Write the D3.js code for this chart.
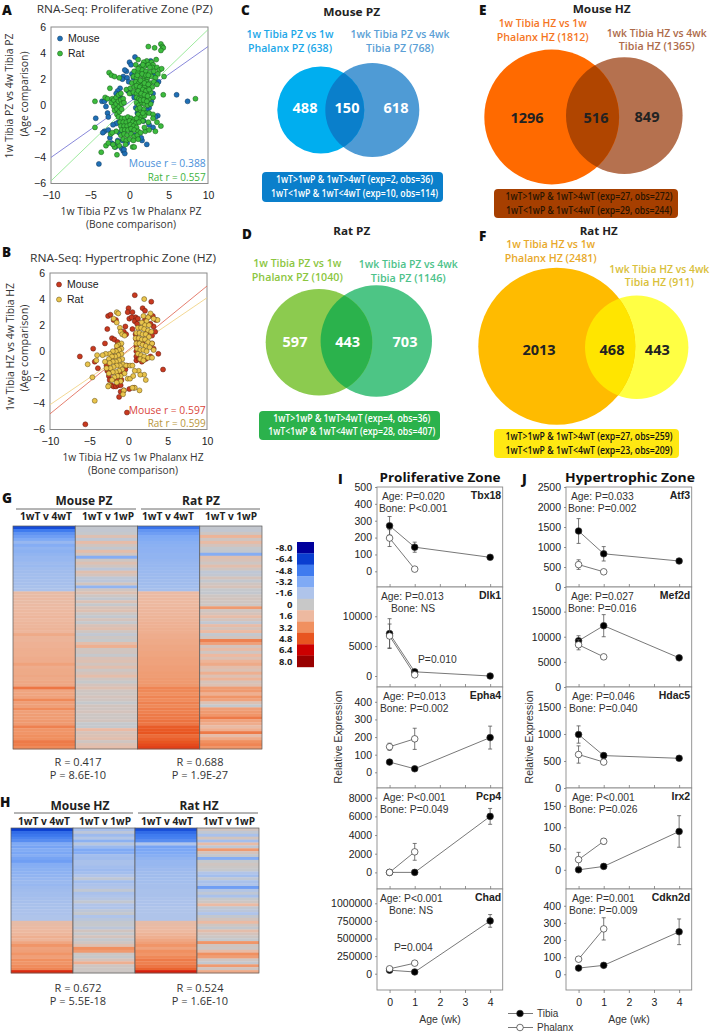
<!DOCTYPE html>
<html><head><meta charset="utf-8">
<script src="https://cdn.jsdelivr.net/npm/d3@7"></script>
<style>html,body{margin:0;background:#fff}svg{display:block}</style></head>
<body><script>
// ---------- scatter data ----------
const pzMouse=[[6,.8],[7.4,.3],[-3.9,-4.5],[-4.3,-1],[-3.5,.3],[-3.2,.3],[-3,-.1],[-2.8,-.6],[-2.7,-.9],[-3.2,-2],[-3.4,-2.1],[-2.7,-1.9],[-2.5,-2.5],[-2.3,-2.9],[-2,-3],[-1.8,-3.2],[-1,-3.3],[-.8,-3.5],[-.6,-3.7],[-.7,-3.4],[-.3,-2.9],[2.2,-3],[1.6,-2.7],[1.5,-2.5],[.7,-2.3],[3,-1.7],[2.5,-1.5],[3.6,-.8],[2.5,-.2],[2.8,.3],[2,.4],[1.6,.5],[.8,-.2],[1.3,-.4],[1,-.6],[1.5,-.9],[1.8,-1.2],[.7,3.7],[0,3.3],[.2,3.1],[-.4,2.6],[-.6,2.7],[-.8,2.2],[-.9,2],[-.3,2.1],[-.1,1.8],[.3,2.4],[.5,2.1],[-1.2,1.3],[-1.5,1.1],[-1.7,.9],[-1.3,.7],[-1,.5],[-.2,1.1],[.2,.9],[.6,.6],[3.7,1.8],[3.4,1.7],[3,2.3],[2.7,3.4],[2.2,3.1],[1.5,3],[-.6,-1.1],[-.2,-1.5],[.1,-1.7],[.3,-1.9],[-.5,-1.9],[-.9,-1.4],[-1.4,-1.3],[-1.7,-1.4],[-2.1,-1.5],[-1.3,-2.1],[-.9,-2.7],[-1.5,-2.7],[1.1,.2],[2.2,-.4],[3,.9],[3.3,-.9]];
const pzRat=[[8.4,.5],[4.3,.8],[-4.4,.3],[-4.4,-1.7],[-3.6,-3.6],[-3,-3.1],[-2.4,-2.2],[-1.6,-3.8],[-1.3,-3.1],[-2.5,1.3],[-2.6,2.5],[-2.3,2.3],[-1.9,2.2],[-1.3,2.1],[-3.1,.6],[-2.8,.5],[-2.2,.5],[2.4,4.5],[3.2,4.4],[4,4.7],[4.2,4.5],[4.3,4.4],[4,4.2],[2.2,3.4],[2.8,3.3],[3.4,3.5],[1.8,3.3],[3,3.1],[1.1,3.5],[.8,3.1],[1.3,2.9],[1.9,3],[2.4,3.1],[2.9,2.9],[3.5,2.9],[3.8,2.7],[.6,2.6],[1.1,2.5],[1.6,2.7],[2.1,2.6],[2.6,2.5],[3.1,2.6],[3.6,2.4],[4.1,2.8],[.5,2.2],[.9,2.1],[1.4,2.3],[1.9,2.2],[2.3,2.1],[2.8,2.2],[3.3,2.1],[4.4,2.2],[.3,1.7],[.8,1.8],[1.2,1.7],[1.7,1.9],[2.2,1.8],[2.6,1.7],[3.1,1.8],[3.5,1.6],[-.4,1.2],[.1,1.3],[.6,1.4],[1,1.3],[1.5,1.5],[1.9,1.4],[2.4,1.3],[2.9,1.4],[0,.9],[.5,1],[.9,.9],[1.3,1.1],[1.8,1],[2.2,.9],[2.7,1],[.9,.6],[1.2,.5],[1.6,.7],[2,.6],[2.5,.5],[3,.6],[.9,.2],[1.2,0],[1.6,.2],[1.9,.1],[2.3,0],[2.7,.1],[1,-.3],[1.4,-.4],[1.8,-.3],[2.1,-.6],[1.1,-.7],[1.5,-.9],[1.9,-.8],[2.5,-.6],[3,-.7],[1.3,-1.1],[1.7,-1.2],[1.1,2.8],[1.6,2.4],[2.1,2.3],[2.6,2.9],[1,2.3],[1.4,1.9],[1.9,1.7],[2.4,1.6],[.9,1.5],[1.3,1.4],[1.7,1.2],[2.1,1.1],[2.5,1.2],[1.1,1.1],[1.5,.9],[1.9,.8],[2.3,.7],[1.4,.4],[1.8,.4],[2.2,.3],[1.3,-.2],[1.7,-.6],[2.4,2.3],[1.7,3.1],[-2.3,.2],[-2,.4],[-1.7,.6],[-1.4,.8],[-1.1,.9],[-2,-.1],[-1.7,.1],[-1.4,.3],[-1.1,.4],[-.8,.5],[-1.9,-.4],[-1.6,-.3],[-1.3,-.1],[-1,.1],[-.7,.2],[-1.6,-.7],[-1.3,-.5],[-1,-.3],[-1.4,-.9],[-1,-1],[-.6,-1],[-.2,-.9],[.2,-1],[.6,-1.1],[.9,-1],[-1.2,-1.3],[-.8,-1.3],[-.4,-1.3],[0,-1.2],[.4,-1.3],[.8,-1.4],[1.2,-1.3],[-1.1,-1.6],[-.7,-1.6],[-.3,-1.6],[.1,-1.5],[.5,-1.6],[.9,-1.7],[-1,-1.9],[-.6,-1.9],[-.2,-1.9],[.2,-1.8],[.6,-1.9],[1.1,-2],[-1.1,-2.3],[-.7,-2.2],[-.3,-2.3],[.2,-2.2],[.6,-2.4],[1,-2.3],[-.8,-2.6],[-.4,-2.7],[0,-2.6],[.5,-2.7],[1.1,-2.6],[-.5,-3],[.4,-3.2],[.6,-3.2],[2,-2],[2.5,-1.9],[3.3,-2],[4,-1.6],[3,-1],[3.5,-1.3],[2.4,-1.3],[1.9,-1.7],[1.4,-2.1],[-1.7,-2],[-2.2,-2.1],[-1.5,-2.8],[-1.9,-3.2],[-2.1,-3],[-2.7,-2.9]];
const hzMouse=[[.8,4.3],[2.9,3.8],[-5.5,-5.6],[-.2,-4.7],[-6.2,-.4],[-4.5,.2],[-4.3,-.8],[-3.9,-1.3],[-3,.6],[-2.7,1.7],[-2.6,2.7],[-2.3,2.8],[-1.9,2.4],[-1.6,2.4],[-2.1,1],[-1.8,.9],[-1.4,.7],[4.4,-1.4],[3.8,-.2],[3.2,.2],[3,.6],[3.4,1.5],[0,3.3],[-.1,3],[.5,3],[.9,2.6],[1.8,3.3],[2.1,3.1],[2.7,2.7],[3.1,2.7],[3.5,2.4],[.1,2.5],[.4,2.6],[.8,2.3],[1.1,2.1],[-.4,1.9],[-.6,1.5],[-.3,1.3],[.5,1.7],[.9,1.3],[1,.9],[1,.4],[1,0],[1,-.4],[1,-.7],[1.3,-.6],[1.7,-.8],[2.2,-.6],[2.8,-.4],[3,1.2],[3.2,1.9],[2.8,2.1],[1.2,2.5],[1.4,1.8],[1.8,.6],[2.4,1.5],[2.1,2.4],[-2.8,-1.1],[-2.7,-1.5],[-2.5,-1.9],[-2.4,-2.2],[-2.2,-2.6],[-1.9,-2.7],[-1.6,-2.7],[-1.3,-2.6],[-1,-2.6],[-.9,-2.2],[-1.2,-3.5],[-1,-3.1],[-.6,-3],[.1,-2.9],[.7,-2.8],[-2.1,-1.6],[-1.8,-2.1],[-1.4,-2.2],[-1.1,-1.8],[-.7,-1.6],[-.4,-1.4],[-.2,-1.1],[-2.3,-.8],[-1.9,-.4],[-1.5,.1],[-1.1,.4]];
const hzRat=[[2,4],[-5.2,-1],[-4.6,-2],[-4.3,-3.8],[-4.1,-.7],[-4,-.3],[-1.5,3],[-1.3,2.9],[-1.9,2.5],[-1.5,2.2],[-1.1,1.8],[-1,1.5],[-.8,1.3],[-.5,1.2],[3.7,2.4],[3.2,2.5],[2.8,2.9],[2,-1.8],[2.2,-2.2],[1.3,-1.5],[1.5,-1.8],[.8,-1.5],[1.4,-3],[.8,-2.8],[.5,-2.8],[-.6,-3],[-.7,-3.3],[2.5,2.6],[1.9,2.7],[2.3,2.3],[1.7,2.2],[2.1,2],[2.6,2],[1.2,1.8],[1.6,1.8],[2,1.7],[2.5,1.6],[2.9,1.5],[1,1.4],[1.4,1.4],[1.8,1.3],[2.2,1.3],[2.6,1.1],[.9,1],[1.3,1],[1.7,.9],[2.1,.9],[2.5,.7],[3,.6],[1,.6],[1.4,.6],[1.8,.5],[2.2,.4],[2.7,.3],[3.2,.1],[1.1,.2],[1.5,.1],[1.9,.1],[2.3,0],[1.2,-.2],[1.6,-.3],[2,-.4],[2.5,-.5],[3,-.5],[1.5,-.6],[1.9,-.7],[-.9,.6],[-1.3,.5],[-1.5,.4],[-.9,.2],[-1.2,.1],[-1.6,0],[-2,0],[-2.4,-.2],[-2.9,-.2],[-3.3,-.3],[-.9,-.2],[-1.3,-.3],[-1.7,-.4],[-2.1,-.4],[-2.5,-.6],[-.8,-.6],[-1.2,-.7],[-1.6,-.8],[-2,-.8],[-2.4,-.9],[-3,-.8],[-.7,-1],[-1.1,-1.1],[-1.5,-1.1],[-1.9,-1.2],[-2.3,-1.3],[-2.8,-1.3],[-.3,-1.1],[.2,-1.1],[.5,-1.1],[-.8,-1.4],[-1.2,-1.5],[-1.6,-1.6],[-2,-1.6],[-2.5,-1.7],[-.5,-1.7],[-1,-1.9],[-1.4,-1.9],[-1.8,-2],[-.1,-2.1],[.2,-2.1],[.6,-1.9],[-1,-2.3],[-1.5,-2.4],[-2.1,-2.2],[-2.5,-2.6],[-2.6,-2.7]];
const pzFits=[[-10,-4,10,4.5],[-10,-5.8,10,5.8]];
const hzFits=[[-10,-4.8,10,5],[-10,-4.1,10,4.1]];
const scatterTicksX=[-10,-5,0,5,10], scatterTicksY=[-6,-4,-2,0,2,4,6];

// ---------- heat map data ----------
const heatStops=[-8,-6.4,-4.8,-3.2,-1.6,0,1.6,3.2,4.8,6.4,8];
const heatColors=["#00009c","#0a3ed0","#3f7bef","#7faaf5","#afc4ea","#c8c8c8","#edb9a0","#f09060","#e85520","#cc0000","#990000"];
const legendLabels=["-8.0","-6.4","-4.8","-3.2","-1.6","0","1.6","3.2","4.8","6.4","8.0"];
const gMouseAge=[-6,-4.8,-4,-3.6,-3.2,-2.4,-3,-2.6,-2.8,-2.6,-2.4,-2.4,-2.2,-2.3,-2.1,-2.1,-2,-2,-1.9,-1.9,-1.8,-1.7,1.4,1.4,1.5,1.4,1.5,1.5,1.6,1.6,1.7,1.6,1.7,1.7,1.8,1.7,2.2,1.8,1.8,1.9,1.9,2,2,2,2.1,2.1,2.5,2.1,2.2,2.2,2.3,2.2,2.3,2.3,3.9,2.4,2.4,2.5,3.4,2.6,2.6,3.3,2.6,2.7,2.7,2.8,2.8,3.6,3,3,3.2,3.2,3.8,3.7,3.4];
const gMouseBone=[-.3,-.4,-.2,.9,-.5,1.3,.4,-.3,1.2,.3,-3,.2,.9,.3,-.7,1,.5,-.6,-.8,.4,-2.6,.3,.9,.2,-.3,.8,-.2,.6,.9,.2,-.3,.5,-.2,.7,1,.3,-.4,.2,-.1,1.2,2,.3,.4,-.2,.7,.9,.4,1.1,.2,.6,1.2,.3,-.1,.5,.9,.3,.2,.5,.3,-.2,.4,.3,.5,.2,.2,.4,-.2,-.2,1.5,.6,.8,1.1,.3,.9,1.2];
const gRatAge=[-5,-3.9,-3.6,-3.2,-3.1,-2.9,-2.8,-2.7,-2.7,-2.6,-2.6,-2.5,-2.4,-2.4,-2.3,-2.3,-2.2,-2.2,-2.1,-2.1,-2,-1.9,1.5,1.5,1.6,1.6,1.6,1.7,1.7,1.7,1.8,1.8,1.9,1.9,2,2,2.1,2.1,2.2,2.2,2.3,2.3,2.4,2.4,2.5,2.5,2.5,2.6,2.6,2.7,2.7,2.8,2.8,2.9,3.5,3.4,3.2,3.5,3.3,3.6,3.4,3.7,3.6,3.8,3.8,4,3.9,4.6,4.7,4.8,4.2,4.5,4.8,5,5.2];
const gRatBone=[-.3,-.4,.2,1.8,.3,1.4,.5,-.2,-.3,-3,1,.7,.2,1.1,.3,-.6,-.4,.5,-.3,.3,.6,-.2,-.3,.2,.4,.3,.2,2.8,.3,.6,1.3,.5,-.4,1.3,.6,1.5,-.3,.4,3.6,2.6,.5,1.4,.3,1.6,.9,1.8,2.2,1.2,.8,2,.9,1.8,.6,.9,2.7,2.8,2,3,2.5,.8,-.2,2.6,2.8,3,3.8,2.5,2.1,1.4,2,3.8,1.3,2.2,3.2,3.5,3];
const hMouseAge=[-6.4,-5.2,-4.9,-4.5,-4.2,-3.2,-3.4,-3.1,-3.3,-3,-3.4,-3.6,-3,-2.9,-2.8,-2.7,-2.6,-2.4,-2.3,-2.4,-2.2,-2.1,-2,-2,-1.9,-1.9,-1.8,-1.8,-1.7,-1.7,-1.6,-1.6,1.3,1.4,1.5,1.6,1.7,2,1.8,2.4,3,2.5,2.6,3,2.6,3.2,3,3.3,3.5,5.6];
const hMouseBone=[-1.9,-.8,-2.2,-1.4,-2.8,-1,-2.3,-3.2,-3,-2,-2.1,-1.8,-1.8,-2,-2.2,-2,-1.5,-.6,-2,-1.7,-1.5,-.5,-1.8,-1.6,-1.2,-.4,-1.5,-1.6,-.8,-.3,-1.6,-1,-.3,-.2,-.8,.4,-.2,.5,-.2,.3,1,3.2,2.8,.2,-.1,.6,2,.3,.2,.2];
const hRatAge=[-6,-5.2,-4.8,-4.6,-4.2,-1.6,-3.4,-3.3,-3.2,-2.9,-2.6,-2.4,-2.4,-2.3,-2.2,-2.1,-2.1,-2,-2,-1.9,-1.9,-1.8,-1.8,-1.8,-1.7,-1.7,-1.7,-1.6,-1.6,-1.6,-1.6,-1.6,1.3,1.4,1.5,1.6,1.8,2,2.3,2.6,3,2.5,3.2,3,3.4,3.8,3.6,3.9,4.4,5.8];
const hRatBone=[.3,-.5,-1.8,.4,-2,1.3,-.5,2.8,.5,-.3,-3,-.2,.3,.1,-.2,-1.5,-2,-.6,-1.8,-1.6,-3.6,-1.4,-.6,-1.8,-.2,.2,1.5,-.4,-.8,-1.6,-.3,.4,1.5,.3,-.3,1.2,.5,.2,-.2,3,.4,.2,1.4,3.2,2.7,.3,-.3,2.8,.4,2.2];
const heatG=[gMouseAge,gMouseBone,gRatAge,gRatBone], heatH=[hMouseAge,hMouseBone,hRatAge,hRatBone];

// ---------- time course data ----------
const genesI=["Tbx18","Dlk1","Epha4","Pcp4","Chad"], genesJ=["Atf3","Mef2d","Hdac5","Irx2","Cdkn2d"];
const weeks=[0,1,4], weeksP=[0,1], ageTicks=[0,1,2,3,4];
const tibia={Tbx18:[270,143,83],Dlk1:[7100,700,0],Epha4:[58,20,197],Pcp4:[0,0,6000],Chad:[50000,25000,750000],Atf3:[1400,830,650],Mef2d:[9200,12200,5800],Hdac5:[990,600,550],Irx2:[0,8,90],Cdkn2d:[36,52,248]};
const tibiaErr={Tbx18:[55,30,10],Dlk1:[2500,200,100],Epha4:[10,5,65],Pcp4:[50,50,850],Chad:[15000,8000,90000],Atf3:[310,180,50],Mef2d:[1000,2200,300],Hdac5:[160,50,40],Irx2:[2,3,37],Cdkn2d:[8,8,75]};
const phalanx={Tbx18:[197,13],Dlk1:[6700,200],Epha4:[145,190],Pcp4:[0,2200],Chad:[70000,150000],Atf3:[560,380],Mef2d:[8400,6000],Hdac5:[620,480],Irx2:[24,67],Cdkn2d:[88,265]};
const phalanxErr={Tbx18:[50,10],Dlk1:[2000,100],Epha4:[20,60],Pcp4:[50,900],Chad:[10000,8000],Atf3:[120,40],Mef2d:[1000,300],Hdac5:[160,40],Irx2:[17,6],Cdkn2d:[12,65]};
const yTicks={Tbx18:[0,100,200,300,400,500],Dlk1:[0,5000,10000],Epha4:[0,100,200,300,400],Pcp4:[0,2000,4000,6000,8000],Chad:[0,250000,500000,750000,1000000],Atf3:[0,500,1000,1500,2000,2500],Mef2d:[0,5000,10000,15000],Hdac5:[0,500,1000,1500],Irx2:[0,50,100,150],Cdkn2d:[0,100,200,300,400]};
const ageText={Tbx18:"Age: P=0.020",Dlk1:"Age: P=0.013",Epha4:"Age: P=0.013",Pcp4:"Age: P<0.001",Chad:"Age: P<0.001",Atf3:"Age: P=0.033",Mef2d:"Age: P=0.027",Hdac5:"Age: P=0.046",Irx2:"Age: P<0.001",Cdkn2d:"Age: P=0.001"};
const boneText={Tbx18:"Bone: P<0.001",Dlk1:"Bone: NS",Epha4:"Bone: P=0.002",Pcp4:"Bone: P=0.049",Chad:"Bone: NS",Atf3:"Bone: P=0.002",Mef2d:"Bone: P=0.016",Hdac5:"Bone: P=0.040",Irx2:"Bone: P=0.026",Cdkn2d:"Bone: P=0.009"};

// ---------- layout (not data) ----------
const yDomains={Tbx18:[-93,500],Dlk1:[-1840,14900],Epha4:[-89,484],Pcp4:[-1780,9040],Chad:[-231000,1203000],Atf3:[0,2500],Mef2d:[0,19900],Hdac5:[0,1870],Irx2:[-45,192],Cdkn2d:[-92,498]};
const annotX={Tbx18:[5,2],Dlk1:[4,14],Epha4:[6,3],Pcp4:[6,3],Chad:[3,12],Atf3:[5,2],Mef2d:[5,2],Hdac5:[6,3],Irx2:[6,3],Cdkn2d:[6,3]};
const panelTops=[487,587,687,788,889,990];
const SANS="'Open Sans',sans-serif", ARIAL="'Liberation Sans',Arial,sans-serif";

const svg=d3.select("body").append("svg").attr("width",710).attr("height",1033);
function T(x,y,s,o={}){
  const e=svg.append("text").attr("x",x).attr("y",y).text(s)
    .attr("font-family",o.font||SANS).attr("font-size",o.size||10)
    .attr("font-weight",o.weight||400).attr("fill",o.fill||"#222")
    .attr("text-anchor",o.anchor||"start");
  if(o.width) e.attr("textLength",o.width).attr("lengthAdjust","spacingAndGlyphs");
  if(o.rot) e.attr("transform",`rotate(-90 ${x} ${y})`);
  return e;
}
const M="middle";

// ---------- panel letters ----------
[["A",2,14.5],["B",2,257],["C",241,14.5],["D",242,239],["E",479,14.5],["F",479,241],["G",2,503],["H",0,807],["I",338,484],["J",522,484]]
 .forEach(d=>T(d[1],d[2],d[0],{size:13.5,weight:800,fill:"#111"}));

// ---------- scatter plots ----------
function scatter(o){
  const x=d3.scaleLinear().domain([-10,10]).range([o.x0,o.x0+157]);
  const y=d3.scaleLinear().domain([-6,6]).range([o.y0+156.5,o.y0]);
  const g=svg.append("g");
  g.append("rect").attr("x",o.x0).attr("y",o.y0).attr("width",157).attr("height",156.5).attr("fill","#fff").attr("stroke","#8a8a8a").attr("stroke-width",1);
  const ax=g.append("g").attr("transform",`translate(0,${o.y0+156.5})`).call(d3.axisBottom(x).tickValues(scatterTicksX).tickSize(0).tickPadding(8));
  const ay=g.append("g").attr("transform",`translate(${o.x0},0)`).call(d3.axisLeft(y).tickValues(scatterTicksY).tickSize(0).tickPadding(5));
  [ax,ay].forEach(a=>{a.select(".domain").remove();a.selectAll("text").attr("font-family",ARIAL).attr("font-size",10.5).attr("fill","#222")});
  o.fits.forEach((f,i)=>g.append("line").attr("x1",x(f[0])).attr("y1",y(f[1])).attr("x2",x(f[2])).attr("y2",y(f[3])).attr("stroke",o.fitC[i]).attr("stroke-width",.9));
  [[o.a,o.ca,o.sa],[o.b,o.cb,o.sb]].forEach(s=>{
    g.append("g").selectAll("circle").data(s[0]).join("circle")
      .attr("cx",d=>x(d[0])).attr("cy",d=>y(d[1])).attr("r",2.5)
      .attr("fill",s[1]).attr("stroke",s[2]).attr("stroke-width",.5);
  });
  g.append("circle").attr("cx",o.x0+9).attr("cy",o.y0+11.5).attr("r",2.5).attr("fill",o.ca).attr("stroke",o.sa).attr("stroke-width",.5);
  g.append("circle").attr("cx",o.x0+9).attr("cy",o.y0+26.5).attr("r",2.5).attr("fill",o.cb).attr("stroke",o.sb).attr("stroke-width",.5);
  T(o.x0+17,o.y0+15,"Mouse",{font:ARIAL,size:10.5});
  T(o.x0+17,o.y0+30,"Rat",{font:ARIAL,size:10.5});
}
scatter({x0:51,y0:27,a:pzMouse,b:pzRat,ca:"#1f6fb5",cb:"#3dbb3d",sa:"#123a5e",sb:"#14561a",fits:pzFits,fitC:["#7a7ad6","#93e893"]});
scatter({x0:50,y0:273,a:hzMouse,b:hzRat,ca:"#c8391f",cb:"#e9c44c",sa:"#5e1a10",sb:"#5e4a14",fits:hzFits,fitC:["#e2705f","#f2d488"]});
T(36.7,12.7,"RNA-Seq: Proliferative Zone (PZ)",{size:11,width:176,fill:"#333"});
T(30,261.7,"RNA-Seq: Hypertrophic Zone (HZ)",{size:11,width:186,fill:"#333"});
T(13,96,"1w Tibia PZ vs 4w Tibia PZ",{size:10,anchor:M,rot:1,width:125,fill:"#333"});
T(28,94,"(Age comparison)",{size:10,anchor:M,rot:1,width:85,fill:"#333"});
T(131,215,"1w Tibia PZ vs 1w Phalanx PZ",{size:10,anchor:M,width:141,fill:"#333"});
T(131,228,"(Bone comparison)",{size:10,anchor:M,width:90,fill:"#333"});
T(14,347,"1w Tibia HZ vs 4w Tibia HZ",{size:10,anchor:M,rot:1,width:128,fill:"#333"});
T(28,348,"(Age comparison)",{size:10,anchor:M,rot:1,width:87,fill:"#333"});
T(133,461,"1w Tibia HZ vs 1w Phalanx HZ",{size:10,anchor:M,width:141,fill:"#333"});
T(133,474,"(Bone comparison)",{size:10,anchor:M,width:90,fill:"#333"});
T(205.7,166.7,"Mouse  r = 0.388",{size:10,anchor:"end",width:77,fill:"#4a90d9"});
T(205.7,180.7,"Rat r = 0.557",{size:10,anchor:"end",width:58,fill:"#3db33d"});
T(205.7,414,"Mouse  r = 0.597",{size:10,anchor:"end",width:77,fill:"#d9453a"});
T(205.7,427,"Rat r = 0.599",{size:10,anchor:"end",width:58,fill:"#b8963a"});

// ---------- venn diagrams ----------
let vid=0;
function venn(o){
  const g=svg.append("g"), id="v"+(++vid);
  g.append("clipPath").attr("id",id).append("circle").attr("cx",o.c2[0]).attr("cy",o.c2[1]).attr("r",o.c2[2]);
  g.append("circle").attr("cx",o.c2[0]).attr("cy",o.c2[1]).attr("r",o.c2[2]).attr("fill",o.col[1]);
  g.append("circle").attr("cx",o.c1[0]).attr("cy",o.c1[1]).attr("r",o.c1[2]).attr("fill",o.col[0]);
  g.append("circle").attr("cx",o.c1[0]).attr("cy",o.c1[1]).attr("r",o.c1[2]).attr("fill",o.col[2]).attr("clip-path",`url(#${id})`);
  o.nums.forEach(n=>T(n[0],n[1],n[2],{size:14.5,weight:700,anchor:M,fill:o.numC}));
  g.append("rect").attr("x",o.box[0]).attr("y",o.box[1]).attr("width",o.box[2]).attr("height",o.box[3]).attr("rx",4).attr("fill",o.boxC);
  o.boxT.forEach(b=>T(b[0],b[1],b[2],{size:10,weight:600,anchor:M,width:b[3],fill:o.boxTC}));
  o.lab.forEach(l=>T(l[0],l[1],l[2],{size:10.5,weight:600,anchor:M,width:l[3],fill:l[4]}));
  T(o.head[0],o.head[1],o.head[2],{size:11,weight:700,anchor:M,width:o.head[3],fill:"#222"});
}
venn({c1:[320.8,110,43.5],c2:[372.3,110,47],col:["#00aeef","#4f9bd5","#0a7fcb"],numC:"#fff",
 nums:[[305,112.7,"488"],[347,112.7,"150"],[396,112.7,"618"]],box:[262,172,181,30],boxC:"#0a7fcb",boxTC:"#fff",
 boxT:[[354.5,183,"1wT>1wP & 1wT>4wT (exp=2, obs=36)",157],[354.5,196.7,"1wT<1wP & 1wT<4wT (exp=10, obs=114)",167]],
 lab:[[290,38,"1w Tibia PZ vs 1w",87,"#1ca7e8"],[290,52,"Phalanx PZ (638)",84,"#1ca7e8"],[400,38,"1wk Tibia PZ vs 4wk",99,"#5b9fd6"],[400,52,"Tibia PZ (768)",68,"#5b9fd6"]],
 head:[351.7,16,"Mouse PZ",57]});
venn({c1:[551.7,117,67.4],c2:[624.3,115.6,58.3],col:["#ff6a00","#b5714f","#b04500"],numC:"#222",
 nums:[[527,123,"1296"],[596,123,"516"],[647,122,"849"]],box:[494,189,184,29],boxC:"#a63f00",boxTC:"#2a1500",
 boxT:[[589,200,"1wT>1wP & 1wT>4wT (exp=27, obs=272)",167],[589,213.5,"1wT<1wP & 1wT<4wT (exp=29, obs=244)",166]],
 lab:[[542.7,27,"1w Tibia HZ vs 1w",88,"#f5761f"],[542.7,41,"Phalanx HZ (1812)",92,"#f5761f"],[656.7,37,"1wk Tibia HZ vs 4wk",100,"#ad6b4a"],[656.7,50,"Tibia HZ (1365)",76,"#ad6b4a"]],
 head:[601.7,13,"Mouse HZ",58]});
venn({c1:[319,342.3,53.3],c2:[376.3,341,55.7],col:["#8ccb4f","#4dc585","#2bb24c"],numC:"#fff",
 nums:[[295,347.3,"597"],[347.7,347.3,"443"],[405,347.3,"703"]],box:[259,411,181,29],boxC:"#2bb24c",boxTC:"#fff",
 boxT:[[351.7,421.7,"1wT>1wP & 1wT>4wT (exp=4, obs=36)",157],[351.7,435,"1wT<1wP & 1wT<4wT (exp=28, obs=407)",167]],
 lab:[[297.3,267.3,"1w Tibia PZ vs 1w",88,"#8cc63f"],[297.3,281,"Phalanx PZ (1040)",91,"#8cc63f"],[408.3,267.7,"1wk Tibia PZ vs 4wk",99,"#4dc28a"],[408.3,281.7,"Tibia PZ (1146)",75,"#4dc28a"]],
 head:[351.7,235,"Rat PZ",37]});
venn({c1:[556.8,346.3,78.5],c2:[636.7,347.3,51.7],col:["#ffbb00","#ffff44","#ffe500"],numC:"#222",
 nums:[[539,355,"2013"],[612,355,"468"],[657.3,355,"443"]],box:[494,429,185,29],boxC:"#ffe812",boxTC:"#111",
 boxT:[[589,440,"1wT>1wP & 1wT>4wT (exp=27, obs=259)",167],[589,454,"1wT<1wP & 1wT<4wT (exp=23, obs=209)",167]],
 lab:[[550.7,248,"1w Tibia HZ vs 1w",89,"#e8a92a"],[550.7,262,"Phalanx HZ (2481)",92,"#e8a92a"],[659.3,272.7,"1wk Tibia HZ vs 4wk",100,"#d9c03a"],[659.3,286,"Tibia HZ (911)",69,"#d9c03a"]],
 head:[598.7,235,"Rat HZ",38]});

// ---------- heat maps ----------
const heatColor=d3.scaleLinear().domain(heatStops).range(heatColors).clamp(true);
function heat(cols,x0,x1,y0,y1){
  const x=d3.scaleBand().domain(d3.range(4)).range([x0,x1]);
  const g=svg.append("g");
  cols.forEach((vals,c)=>{
    const y=d3.scaleBand().domain(d3.range(vals.length)).range([y0,y1]);
    g.append("g").selectAll("rect").data(vals).join("rect")
      .attr("x",x(c)).attr("width",x.bandwidth()).attr("y",(d,i)=>y(i)).attr("height",y.bandwidth()+.3)
      .attr("fill",d=>heatColor(d));
    g.append("rect").attr("x",x(c)).attr("y",y0).attr("width",x.bandwidth()).attr("height",y1-y0)
      .attr("fill","none").attr("stroke","#5a5a5a").attr("stroke-width",.7);
  });
}
heat(heatG,13,262,526,749);
heat(heatH,11,259,828,973);
function heatHead(n1,n2,xs,ys,w,lines,sub,subY){
  [[n1,xs[0],w[0]],[n2,xs[1],w[1]]].forEach(d=>T(d[1],ys,d[0],{size:11.5,weight:700,anchor:M,width:d[2]}));
  lines.forEach(l=>svg.append("line").attr("x1",l[0]).attr("x2",l[1]).attr("y1",l[2]).attr("y2",l[2]).attr("stroke","#444").attr("stroke-width",.8));
  sub.forEach((s,i)=>T(s,subY,i%2?"1wT v 1wP":"1wT v 4wT",{size:10.5,weight:700,anchor:M,width:52}));
}
heatHead("Mouse PZ","Rat PZ",[84,201],505,[57,38],[[16,136,509],[141,260,509]],[46,108,168,231],520);
heatHead("Mouse HZ","Rat HZ",[80,199],810,[59,39],[[14,133,813],[138,258,813]],[44,105,167,229],825);
[[78,766,"R = 0.417"],[78,779,"P = 8.6E-10"],[200,766,"R = 0.688"],[200,779,"P = 1.9E-27"],[78,992,"R = 0.672"],[78,1005,"P = 5.5E-18"],[200,992,"R = 0.524"],[200,1005,"P = 1.6E-10"]]
 .forEach(d=>T(d[0],d[1],d[2],{size:11,anchor:M,fill:"#333"}));
// legend
const legY=d3.scaleBand().domain(d3.range(heatStops.length)).range([542,667]);
svg.append("g").selectAll("rect").data(heatStops).join("rect")
  .attr("x",297).attr("width",17).attr("y",(d,i)=>legY(i)).attr("height",legY.bandwidth()+.2).attr("fill",d=>heatColor(d));
legendLabels.forEach((l,i)=>T(292.5,legY(i)+legY.bandwidth()/2+3.3,l,{size:9.5,weight:700,anchor:"end"}));

// ---------- time courses ----------
function course(genes,left){
  const w=125.7;
  const x=d3.scaleLinear().domain([-.5,4.5]).range([left,left+w]);
  genes.forEach((gene,i)=>{
    const top=panelTops[i], bot=panelTops[i+1];
    const y=d3.scaleLinear().domain(yDomains[gene]).range([bot,top]);
    const g=svg.append("g");
    g.append("rect").attr("x",left).attr("y",top).attr("width",w).attr("height",bot-top).attr("fill","#fff").attr("stroke","#8a8a8a").attr("stroke-width",.9);
    const ay=g.append("g").attr("transform",`translate(${left},0)`).call(d3.axisLeft(y).tickValues(yTicks[gene]).tickSize(2).tickPadding(3).tickFormat(d3.format("d")));
    ay.select(".domain").remove();
    const last=i===genes.length-1;
    const ax=g.append("g").attr("transform",`translate(0,${bot})`).call(d3.axisBottom(x).tickValues(ageTicks).tickSize(last?3:-3).tickPadding(6).tickFormat(d3.format("d")));
    ax.select(".domain").remove();
    if(!last) ax.selectAll("text").remove();
    [ay,ax].forEach(a=>{a.selectAll("line").attr("stroke","#666").attr("stroke-width",.7);
      a.selectAll("text").attr("font-family",ARIAL).attr("font-size",10.5).attr("fill","#222")});
    const series=[[weeks,tibia[gene],tibiaErr[gene],"#000"],[weeksP,phalanx[gene],phalanxErr[gene],"#fff"]];
    series.forEach(([xs,v,e,fill])=>{
      const pts=xs.map((a,k)=>({a,v:v[k],e:e[k]}));
      g.append("path").attr("d",d3.line().x(d=>x(d.a)).y(d=>y(d.v))(pts)).attr("fill","none").attr("stroke","#555").attr("stroke-width",.8);
      const er=g.append("g").selectAll("g").data(pts).join("g");
      er.append("line").attr("x1",d=>x(d.a)).attr("x2",d=>x(d.a)).attr("y1",d=>y(d.v-d.e)).attr("y2",d=>y(d.v+d.e)).attr("stroke","#555").attr("stroke-width",.8);
      [1,-1].forEach(s=>er.append("line").attr("x1",d=>x(d.a)-2).attr("x2",d=>x(d.a)+2).attr("y1",d=>y(d.v+s*d.e)).attr("y2",d=>y(d.v+s*d.e)).attr("stroke","#555").attr("stroke-width",.8));
      g.append("g").selectAll("circle").data(pts).join("circle").attr("cx",d=>x(d.a)).attr("cy",d=>y(d.v)).attr("r",3.3)
        .attr("fill",fill).attr("stroke","#333").attr("stroke-width",.7);
    });
    T(left+annotX[gene][0],top+12.5,ageText[gene],{font:ARIAL,size:10.3,fill:"#333"});
    T(left+annotX[gene][1],top+24.5,boneText[gene],{font:ARIAL,size:10.3,fill:"#333"});
    T(left+w-1.5,top+11.5,gene,{font:ARIAL,size:10.5,weight:700,anchor:"end",fill:"#222"});
  });
}
course(genesI,377);
course(genesJ,566);
T(418,662.7,"P=0.010",{font:ARIAL,size:10.3,fill:"#333"});
T(394,951,"P=0.004",{font:ARIAL,size:10.3,fill:"#333"});
T(440,482,"Proliferative Zone",{size:13,weight:700,anchor:M,fill:"#111",width:121});
T(630,482,"Hypertrophic Zone",{size:13,weight:700,anchor:M,fill:"#111",width:130});
T(342,737,"Relative Expression",{font:ARIAL,size:10.5,anchor:M,rot:1,fill:"#333"});
T(533,737,"Relative Expression",{font:ARIAL,size:10.5,anchor:M,rot:1,fill:"#333"});
T(440,1023,"Age (wk)",{font:ARIAL,size:10.5,anchor:M,fill:"#333"});
T(629,1023,"Age (wk)",{font:ARIAL,size:10.5,anchor:M,fill:"#333"});
// legend
[[1013.5,"#000","Tibia"],[1027.5,"#fff","Phalanx"]].forEach(d=>{
  svg.append("line").attr("x1",508).attr("x2",533).attr("y1",d[0]).attr("y2",d[0]).attr("stroke","#555").attr("stroke-width",.8);
  svg.append("circle").attr("cx",520).attr("cy",d[0]).attr("r",3.3).attr("fill",d[1]).attr("stroke","#333").attr("stroke-width",.7);
  T(537,d[0]+3.3,d[2],{font:ARIAL,size:10,fill:"#333"});
});
</script></body></html>
